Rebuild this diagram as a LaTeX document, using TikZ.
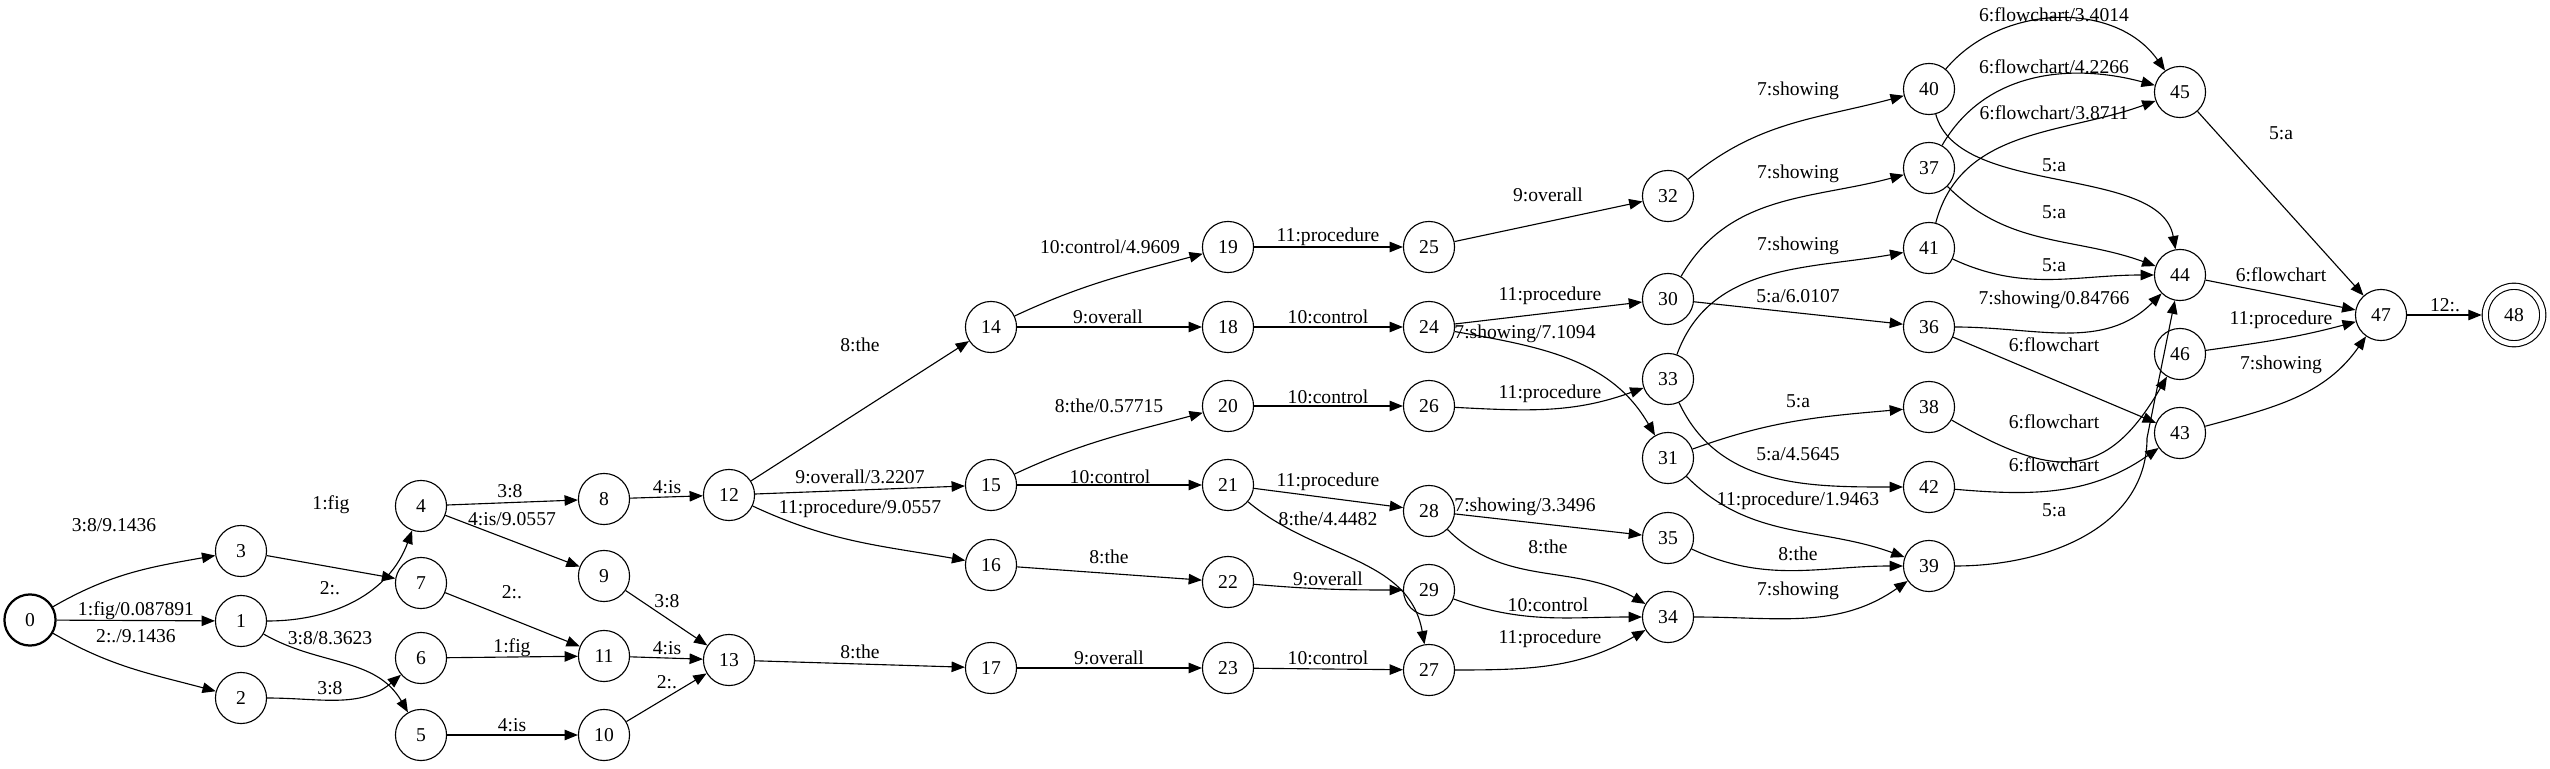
\documentclass[tikz,border=0pt]{standalone}
\usepackage{fontspec}
\setmainfont{Liberation Serif}
\usetikzlibrary{arrows.meta}
\tikzset{
  fststate/.style={circle,draw,line width=0.8pt,minimum size=36.5pt,inner sep=0pt,font=\fontsize{14}{16}\selectfont},
  fststart/.style={fststate,line width=1.6pt},
  fstfinal/.style={fststate,double,double distance=3.6pt,minimum size=41pt,outer sep=2.6pt},
  fstarc/.style={draw,line width=0.8pt,-{Triangle[length=9.5pt,width=7.5pt]}},
  lbl/.style={inner sep=0pt,font=\fontsize{14}{16}\selectfont},
}
\begin{document}
\begin{tikzpicture}[x=0.714pt,y=0.714pt]
  \useasboundingbox (0,0) rectangle (2550,768);
  % states
  \node[fststart] (n0) at (30,148) {0};
  \foreach\n/\x/\y in {1/241/147, 2/241/70, 3/241/217, 4/421/262, 5/421/33, 6/421/110, 7/421/185,
    8/604/269, 9/604/192, 10/604/33, 11/604/112, 12/729/273, 13/729/108,
    14/991/441, 15/991/283, 16/991/203, 17/991/100,
    18/1228/441, 19/1228/521, 20/1228/362, 21/1228/283, 22/1228/186, 23/1228/100,
    24/1429/441, 25/1429/521, 26/1429/362, 27/1429/98, 28/1429/257, 29/1429/178,
    30/1668/469, 31/1668/310, 32/1668/572, 33/1668/389, 34/1668/151, 35/1668/230,
    36/1929/441, 37/1929/600, 38/1929/361, 39/1929/202, 40/1929/679, 41/1929/520, 42/1929/281,
    43/2180/335, 44/2180/493, 45/2180/676, 46/2180/414, 47/2381/453}
    \node[fststate] (n\n) at (\x,\y) {\n};
  \node[fstfinal] (n48) at (2514,453) {48};
  % straight arcs
  \foreach\src/\dst/\lx/\ly/\txt in {0/1/136/157/{1:fig/0.087891}, 3/7/331/263/{1:fig},
    4/8/510/277/{3:8}, 4/9/512/249/{4:is/9.0557}, 7/11/512/176/{2:.}, 6/11/512/120/{1:fig},
    5/10/512/43/{4:is}, 8/12/667/281/{4:is}, 9/13/667/167/{3:8}, 11/13/667/120/{4:is},
    10/13/667/86/{2:.}, 12/14/860/423/{8:the}, 12/15/860/291/{9:overall/3.2207},
    13/17/860/116/{8:the}, 14/18/1108/451/{9:overall}, 15/21/1110/291/{10:control},
    16/22/1109/211/{8:the}, 17/23/1109/110/{9:overall}, 19/25/1328/531/{11:procedure},
    18/24/1328/451/{10:control}, 20/26/1328/371/{10:control}, 21/28/1328/286/{11:procedure},
    23/27/1328/110/{10:control}, 25/32/1548/573/{9:overall}, 24/30/1550/472/{11:procedure},
    28/35/1525/261/{7:showing/3.3496}, 30/36/1798/472/{5:a/6.0107}, 36/43/2054/423/{6:flowchart},
    45/47/2281/635/{5:a}, 44/47/2281/493/{6:flowchart}, 47/48/2445/463/{12:.}} {
    \path[fstarc] (n\src) -- (n\dst);
    \node[lbl] (l\src-\dst) at (\lx,\ly) {\txt};
  }
  % curved arcs
  \foreach\src/\dst/\oa/\ia/\lk/\lx/\ly/\txt in {0/3/30/190/1/114/243/{3:8/9.1436},
    0/2/-30/165/1/136/132/{2:./9.1436}, 1/4/0/250/1/330/180/{2:.},
    1/5/-30/120/1/330/130/{3:8/8.3623}, 2/6/0/220/1/330/80/{3:8},
    12/16/-25/170/1/860/259/{11:procedure/9.0557}, 14/19/25/195/1/1110/521/{10:control/4.9609},
    15/20/25/195/1/1109/362/{8:the/0.57715}, 21/27/-40/100/1/1328/249/{8:the/4.4482},
    22/29/-5/180/1/1328/189/{9:overall}, 24/31/-10/120/1/1525/434/{7:showing/7.1094},
    26/33/-3/200/1/1550/374/{11:procedure}, 28/34/-45/150/1/1548/221/{8:the},
    29/34/-20/180/1/1548/163/{10:control}, 27/34/0/210/1/1550/129/{11:procedure},
    32/40/40/195/1/1798/677/{7:showing}, 30/37/60/195/1/1798/594/{7:showing},
    33/41/70/190/1/1798/522/{7:showing}, 31/38/20/185/1/1798/367/{5:a},
    33/42/-65/180/1/1798/314/{5:a/4.5645}, 31/39/-45/160/1/1798/267/{11:procedure/1.9463},
    35/39/-25/180/1/1798/214/{8:the}, 34/39/0/215/1/1798/177/{7:showing},
    40/45/50/125/1/2054/753/{6:flowchart/3.4014}, 37/45/60/165/1/2054/701/{6:flowchart/4.2266},
    41/45/75/200/1/2054/655/{6:flowchart/3.8711}, 40/44/-75/100/0.8/2054/603/{5:a},
    37/44/-45/160/1/2054/556/{5:a}, 41/44/-25/180/1/2054/503/{5:a},
    36/44/0/225/1/2054/468/{7:showing/0.84766}, 38/46/-30/240/1.4/2054/346/{6:flowchart},
    42/43/-5/215/1/2054/303/{6:flowchart}, 46/47/8/195/1/2281/448/{11:procedure},
    43/47/15/235/1/2281/403/{7:showing}} {
    \path[fstarc] (n\src) to[out=\oa,in=\ia,looseness=\lk] (n\dst);
    \node[lbl] (l\src-\dst) at (\lx,\ly) {\txt};
  }
  \coordinate (bend39) at (2147,330);
  \path[fstarc] (n39) to[out=0,in=-90] (bend39) -- (n44);
  \node[lbl] (l39-44) at (2054,258) {5:a};
\end{tikzpicture}
\end{document}
